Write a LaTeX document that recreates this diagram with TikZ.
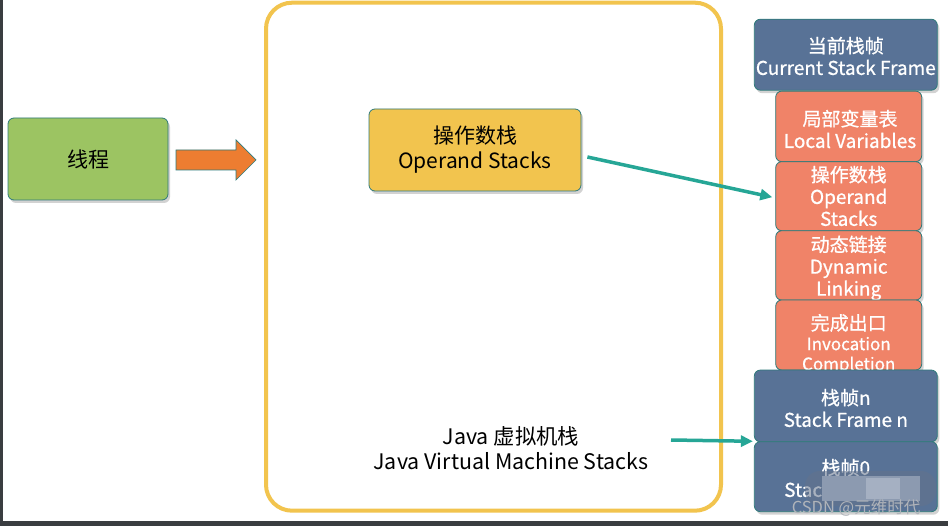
\documentclass[tikz,border=0pt]{standalone}
\usepackage{fontspec}
\setmainfont{Noto Sans CJK SC}
\newfontfamily\medfont[FakeBold=0.8]{Noto Sans CJK SC}
\usetikzlibrary{shadows,arrows.meta}
\definecolor{jvmyellow}{RGB}{242,196,78}
\definecolor{thgreen}{RGB}{156,196,98}
\definecolor{arrorange}{RGB}{237,125,49}
\definecolor{sfblue}{RGB}{88,114,150}
\definecolor{salmon}{RGB}{240,131,104}
\definecolor{edge}{RGB}{46,122,122}
\definecolor{tealarr}{RGB}{38,166,150}
\definecolor{darkframe}{RGB}{58,61,64}
\begin{document}
\begin{tikzpicture}[x=1pt,y=-1pt,
  box/.style={draw=edge, line width=0.8pt, rounded corners=6pt, inner sep=0pt,
    drop shadow={opacity=0.35,shadow xshift=2pt,shadow yshift=-3pt}},
  btext/.style={align=center, text=white, inner sep=0pt, font=\medfont\fontsize{19}{22}\selectfont},
  tarrow/.style={draw=tealarr, line width=3.5pt, -{Triangle[length=12pt,width=11pt]}}]
\useasboundingbox (0,0) rectangle (948,526);
\fill[white] (0,0) rectangle (948,526);
\fill[darkframe] (0,0) rectangle (2.5,526);
\fill[darkframe] (0,521) rectangle (948,526);

% JVM stack outline
\node[draw=jvmyellow, line width=4pt, rounded corners=26pt, minimum width=455pt, minimum height=508pt, inner sep=0pt] (jvm) at (493.5,256.7) {};
\node[align=center, inner sep=0pt, font=\fontsize{21.4}{25}\selectfont] (jvmlabel) at (511,448) {Java 虚拟机栈\\Java Virtual Machine Stacks};

% thread
\node[box, fill=thgreen, minimum width=160pt, minimum height=82pt, font=\fontsize{21}{25}\selectfont] (thread) at (88,159) {线程};

% block arrow
\fill[arrorange, draw=edge, line width=0.7pt] (176,150) -- (236,150) -- (236,140) -- (256,160) -- (236,180) -- (236,170) -- (176,170) -- cycle;

% operand stack box
\node[box, fill=jvmyellow, minimum width=212pt, minimum height=82pt, align=center, font=\fontsize{21}{25}\selectfont] (ops) at (475,150) {操作数栈\\Operand Stacks};

% right column
\node[box, fill=sfblue, minimum width=183pt, minimum height=71pt] (cur) at (845.8,54.7) {};
\node[btext] (curt) at (845.8,56) {当前栈帧\\Current Stack Frame};

\node[box, fill=salmon, minimum width=146pt, minimum height=70.5pt] (lv) at (848.7,126.4) {};
\node[btext] (lvt) at (850,129) {局部变量表\\Local Variables};

\node[box, fill=salmon, minimum width=146pt, minimum height=69pt] (op2) at (848.7,196.2) {};
\node[btext] (op2t) at (848.7,196) {操作数栈\\Operand\\Stacks};

\node[box, fill=salmon, minimum width=146pt, minimum height=69.3pt] (dl) at (848.7,265.4) {};
\node[btext] (dlt) at (848.7,268) {动态链接\\Dynamic\\Linking};

\node[box, fill=salmon, minimum width=146pt, minimum height=70pt] (ic) at (848.7,335) {};
\node[btext, font=\medfont\fontsize{17}{20}\selectfont] (ict) at (848.7,344) {\fontsize{19}{20}\selectfont 完成出口\\Invocation\\Completion};

\node[box, fill=sfblue, minimum width=183pt, minimum height=71.7pt] (sfn) at (845.8,405.9) {};
\node[btext] (sfnt) at (845.8,408) {栈帧n\\Stack Frame n};

\node[box, fill=sfblue, minimum width=183pt, minimum height=70pt] (sf0) at (845.8,476.7) {};
\node[btext] (sf0t) at (845.8,478) {栈帧0\\Stack Frame 0};

% blurred patch and watermark
\fill[rounded corners=15pt, fill={rgb,255:red,100;green,115;blue,140}, opacity=0.55] (805,471) rectangle (936,506);
\fill[fill={rgb,255:red,140;green,154;blue,176}] (822,476) rectangle (920,501);
\fill[fill={rgb,255:red,165;green,176;blue,194}] (866,478) rectangle (900,499);
\node[text={rgb,255:red,176;green,180;blue,186}, inner sep=0pt, font=\fontsize{16.5}{18}\selectfont] (wm) at (856,508) {CSDN @元维时代};

% connectors
\draw[tarrow] ([xshift=6pt,yshift=-7pt]ops.east) -- ([xshift=-3pt,yshift=-1pt]op2.west);
\coordinate (jstart) at (671,440);
\draw[tarrow] (jstart) -- ([xshift=-1pt]sf0.north west);
\end{tikzpicture}
\end{document}
